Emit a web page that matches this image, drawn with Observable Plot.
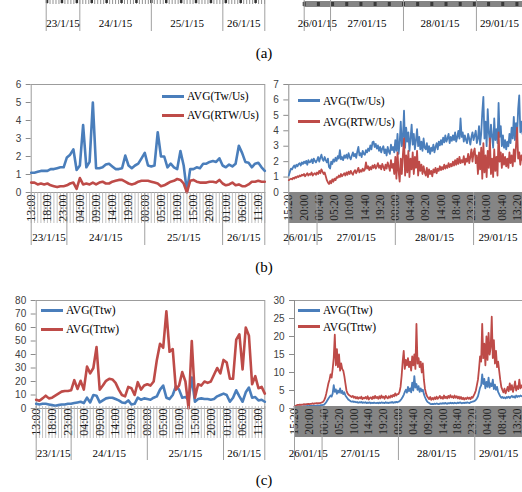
<!DOCTYPE html>
<html><head><meta charset="utf-8">
<script src="https://cdn.jsdelivr.net/npm/d3@7"></script>
<script src="https://cdn.jsdelivr.net/npm/@observablehq/plot@0.6"></script>
<style>
html,body{margin:0;padding:0;background:#fff;}
#fig{position:relative;width:522px;height:492px;overflow:hidden;background:#fff;}
#fig svg{position:absolute;overflow:visible;}
.cap{position:absolute;left:244px;width:40px;text-align:center;font-family:"Liberation Serif",serif;font-size:15px;line-height:17px;color:#000;}
.leg{position:absolute;height:14px;display:flex;align-items:center;white-space:nowrap;font-family:"Liberation Serif",serif;font-size:11.5px;color:#000;}
.leg .sw{display:inline-block;width:22px;height:3px;margin-right:3px;}
</style></head><body><div id="fig"></div>
<script>
// ---------- data ----------
const seriesB = ["AVG(Tw/Us)", "AVG(RTW/Us)"];
const seriesC = ["AVG(Ttw)", "AVG(Trtw)"];
const colors = ["#4a7ebb", "#be4b48"];

const leftTimeLabels = ["13:00","18:00","23:00","04:00","09:00","14:00","19:00","00:00","05:00","10:00","15:00","20:00","01:00","06:00","11:00"];
const leftDateLabels = ["23/1/15","24/1/15","25/1/15","26/1/15"];
const rightTimeLabels = ["15:20","20:00","00:40","05:20","10:00","14:40","19:20","00:00","04:40","09:20","14:00","18:40","23:20","04:00","08:40","13:20"];
const rightDateLabels = ["26/01/15","27/01/15","28/01/15","29/01/15"];

// hourly, 23/1/15 13:00 -> 26/1/15 13:00
const twUsHourly = [1.10,1.10,1.15,1.20,1.20,1.20,1.30,1.30,1.35,1.40,
1.40,1.95,2.10,2.40,1.25,1.50,3.75,1.40,1.70,5.00,
1.35,1.35,1.40,1.55,1.60,1.45,1.30,1.30,1.35,2.05,
1.50,1.35,1.50,1.60,1.90,2.20,1.50,1.45,1.50,3.35,
2.00,2.00,1.40,1.60,1.40,1.30,2.30,1.50,0.05,1.30,
1.30,1.40,1.35,1.60,1.60,1.70,1.75,1.70,1.90,1.50,
1.40,1.55,1.45,1.60,2.60,2.20,1.70,1.65,1.40,1.60,
1.65,1.40,1.20];
const rtwUsHourly = [0.55,0.55,0.45,0.50,0.45,0.50,0.40,0.35,0.30,0.35,
0.35,0.40,0.50,0.55,0.20,0.80,0.45,0.50,0.45,0.55,
0.45,0.55,0.60,0.50,0.50,0.60,0.65,0.70,0.70,0.60,
0.50,0.45,0.50,0.60,0.65,0.65,0.65,0.60,0.55,0.50,
0.35,0.40,0.50,0.60,0.65,0.75,0.70,0.50,0.00,0.65,
0.70,0.60,0.55,0.55,0.55,0.60,0.60,0.55,0.70,0.50,
0.40,0.45,0.55,0.40,0.45,0.35,0.35,0.45,0.60,0.60,
0.65,0.60,0.60];
const ttwHourly = [3.5,3,3.5,3.5,3,2.5,2,2.5,3,3,
3.5,3.5,4,4.5,5,4,8,4.5,10,9.5,
4.5,6,7.5,8,8,7,6,4.5,4,6,
3,3.5,8,6.5,7.5,7,6.5,8,9,14,
17,8,7,10,16.5,14,8,8.5,6.5,23,
5,7,7.5,7,7,6.5,7,9,10,11,
10,5,8,13.5,9,5,12,15.5,8,8.5,
6,6.5,5];
const trtwHourly = [6.5,5.7,7.5,9.5,7.5,8,9.5,11,12.5,13,
13,13.5,21,14.5,20.5,14,31,26,30,45.5,
14,17,20.5,22,21.5,19,14,10,9,16,
15,10,19.5,14,17,18,17,20,36,48,
45,72,42,44,14,17,27,20,0,50,
8,18,17,20,19,20,25,30,26,36,
34,22,22,51,55,29,60,54,18,24,
15,16,11];

// every 20 minutes, 26/01/15 15:20 -> 29/01/15 15:00
const twUsFine = [1.10,1.35,1.55,1.50,1.65,1.75,1.60,1.80,1.70,1.85,
1.90,1.75,1.95,1.85,2.00,1.90,2.05,1.80,2.10,1.95,
2.00,2.15,1.90,2.20,2.05,1.95,
2.10,2.30,2.00,2.25,2.45,2.15,2.05,2.30,2.10,1.95,
2.20,1.65,1.55,2.00,1.85,2.15,2.00,2.25,2.05,2.35,
2.20,2.75,2.15,2.30,2.10,2.40,
2.25,2.45,2.20,2.55,2.30,2.15,2.40,2.60,2.35,2.50,
2.25,2.65,2.95,2.40,2.55,2.30,2.70,2.50,2.45,2.75,
2.60,2.85,2.70,3.05,2.80,3.25,
3.30,2.95,3.15,2.85,3.05,2.70,2.95,2.60,2.85,3.00,
2.55,2.80,2.40,2.95,2.65,2.50,3.10,2.75,2.95,2.60,
3.40,2.70,3.80,2.50,3.20,4.60,3.00,3.60,5.30,2.90,
4.20,3.30,3.90,2.70,3.50,4.40,3.10,3.80,2.80,3.40,
4.10,3.00,3.60,2.80,3.30,2.70,3.50,2.90,
2.80,3.20,2.60,3.00,2.50,2.90,2.70,3.10,2.60,2.95,
3.20,2.80,3.30,3.05,3.40,3.10,3.55,3.25,3.70,3.30,
3.50,3.80,3.20,3.60,3.35,
3.70,3.40,3.90,3.30,3.60,4.00,3.50,4.80,3.60,3.90,
3.30,3.70,3.40,3.20,3.80,3.50,3.10,3.60,3.90,3.40,
3.70,4.00,3.20,3.50,4.30,
3.10,3.80,5.20,6.20,3.50,4.60,3.00,5.40,3.90,3.20,
4.40,3.60,2.90,4.80,3.40,4.10,3.20,5.80,3.60,4.30,
3.00,3.70,2.90,3.40,2.80,
3.30,3.00,3.80,3.20,4.20,3.50,4.90,3.40,4.50,3.60,
5.40,6.30,3.90,4.60,3.80];
const rtwUsFine = [0.80,0.85,0.90,0.85,0.95,0.90,1.00,0.95,1.05,1.00,
1.10,1.05,1.15,1.10,1.20,1.05,1.15,1.25,1.10,1.20,
1.15,1.30,1.10,1.20,1.25,1.15,
1.30,1.20,1.40,1.25,1.50,1.35,1.20,1.30,1.05,0.80,
0.65,0.55,0.75,0.60,0.85,0.70,0.90,0.80,1.00,0.95,
1.10,1.00,1.20,1.05,1.15,1.25,
1.10,1.30,1.15,1.35,1.20,1.40,1.25,1.15,1.35,1.45,
1.25,1.40,1.60,1.30,1.45,1.35,1.55,1.40,1.50,1.95,
1.55,1.70,1.45,1.65,1.50,1.75,
1.60,1.80,1.55,1.70,1.90,1.60,1.75,1.50,1.85,1.65,
1.45,1.80,1.55,1.95,1.70,1.40,2.10,1.60,1.85,1.20,
2.30,0.90,2.60,1.40,0.70,2.20,1.20,2.50,3.50,1.10,
2.40,1.30,2.70,1.00,2.20,1.50,2.60,1.20,2.30,1.60,
2.70,1.10,2.00,1.40,1.80,1.20,1.70,1.30,
1.10,1.60,1.00,1.50,1.20,1.40,1.05,1.50,1.30,1.60,
1.25,1.55,1.40,1.70,1.45,1.65,1.50,1.80,1.55,1.75,
1.60,1.90,1.65,1.85,1.70,
2.00,1.75,2.10,1.80,2.20,1.85,2.30,1.90,2.10,1.95,
2.35,1.80,2.20,2.00,2.50,1.90,2.30,2.80,2.00,2.60,
2.85,1.90,2.40,1.20,2.60,
1.50,2.90,0.90,3.20,1.30,2.40,1.00,2.70,1.60,3.50,
1.20,2.20,1.00,2.80,1.40,2.30,1.10,3.90,2.00,2.60,
1.60,2.50,1.80,2.30,1.70,
2.20,1.60,2.60,1.90,2.40,1.70,2.80,2.00,3.00,4.20,
2.20,2.60,1.80,2.40,2.10];
const ttwFine = [0.40,0.45,0.50,0.50,0.55,0.55,0.60,0.55,0.60,0.65,
0.60,0.65,0.70,0.65,0.70,0.70,0.75,0.70,0.75,0.80,
0.75,0.80,0.85,0.80,0.85,0.90,
0.90,1.00,1.10,1.40,1.80,2.30,2.80,3.20,3.60,3.30,
4.20,6.50,4.60,5.30,4.10,5.00,4.40,5.60,4.30,4.90,
4.00,4.50,3.60,3.20,2.80,2.40,
2.20,2.00,1.90,2.00,1.80,1.90,1.70,1.80,1.60,1.75,
1.65,1.80,1.55,1.70,1.60,1.75,1.50,1.65,1.55,1.70,
1.45,1.60,1.50,1.65,1.55,1.50,
1.60,1.45,1.65,1.50,1.70,1.55,1.60,1.50,1.75,1.55,
1.65,1.50,1.70,1.60,1.80,1.55,1.75,1.65,1.85,1.70,
1.90,2.00,2.30,2.70,3.20,3.80,4.60,5.20,4.40,6.00,
4.80,5.60,4.50,7.20,5.00,9.00,5.80,6.80,5.20,6.20,
4.60,5.60,4.80,5.20,4.00,3.20,2.50,2.00,
1.70,1.50,1.30,1.20,1.30,1.20,1.35,1.25,1.40,1.30,
1.20,1.35,1.45,1.30,1.50,1.35,1.55,1.40,1.30,1.50,
1.40,1.60,1.45,1.55,1.40,
1.60,1.50,1.45,1.65,1.50,1.70,1.55,1.45,1.60,1.50,
1.65,1.55,1.70,1.60,1.50,1.75,1.80,1.90,2.00,
2.10,2.40,2.80,3.40,4.60,5.80,
6.40,9.50,6.80,8.20,5.60,7.40,6.00,8.60,5.80,7.00,
6.20,8.00,5.40,6.60,5.20,6.00,4.60,4.00,3.40,3.00,
3.20,2.90,3.10,2.80,3.20,
3.00,3.30,2.90,3.20,3.50,3.10,3.40,3.00,3.60,3.20,
3.50,3.30,3.60,3.40,3.50];
const trtwFine = [0.50,0.70,0.90,1.00,1.00,1.10,1.00,1.10,1.10,1.20,
1.10,1.20,1.20,1.30,1.20,1.30,1.30,1.40,1.30,1.40,
1.40,1.50,1.40,1.50,1.50,1.60,
1.70,1.90,2.30,3.00,4.20,5.60,7.00,8.00,9.50,8.60,
11.00,14.00,20.50,12.00,16.50,11.50,15.00,10.50,12.50,11.00,
10.50,9.00,7.00,5.00,4.20,3.80,
3.60,3.40,3.20,3.50,3.00,3.30,2.80,3.20,2.70,3.10,
2.80,3.30,2.60,3.00,2.80,3.20,2.70,3.40,2.50,2.90,
3.10,2.60,3.30,2.80,3.50,2.90,
3.20,2.70,3.40,2.80,3.60,3.00,3.30,2.70,3.50,3.10,
2.80,3.40,3.00,3.60,3.20,3.80,3.40,4.20,3.60,4.00,
4.00,4.60,6.00,9.00,13.00,16.00,11.00,13.50,12.00,14.00,
11.50,13.00,10.50,14.50,12.00,15.00,11.00,23.50,12.50,14.00,
11.50,13.00,10.00,12.50,8.00,5.50,4.20,3.40,
3.00,2.60,3.20,2.40,2.90,2.50,3.10,2.60,3.30,2.70,
3.00,3.50,2.80,3.20,2.70,3.60,2.90,3.30,2.80,3.50,
3.00,3.70,3.10,3.40,2.90,
3.60,3.00,3.40,2.80,3.30,2.70,3.20,2.60,3.00,2.50,
2.90,2.60,3.10,2.70,3.00,2.60,3.20,3.00,3.60,
4.20,5.00,6.50,8.00,11.00,14.50,
13.00,23.50,14.00,18.00,12.00,20.00,13.50,21.00,15.00,17.00,
25.50,14.00,19.00,12.50,16.00,11.50,13.00,10.50,8.00,6.00,
5.20,4.50,5.50,4.20,5.00,
6.00,4.80,7.00,5.20,6.50,4.60,5.80,7.50,5.00,6.20,
5.40,8.00,5.60,6.40,5.80];

// ---------- time helpers ----------
const T = (y, m, d, h, mi = 0) => new Date(Date.UTC(y, m - 1, d, h, mi));
const H = 3600e3;
const leftStart = T(2015,1,23,13);
const leftEnd = new Date(+leftStart + 72 * H);
const rightStart = T(2015,1,26,15,20);
const rightEnd = new Date(+rightStart + 215 * 20 * 60e3);
const hourly = arr => arr.map((v, i) => ({t: new Date(+leftStart + i * H), v}));
const fine = arr => arr.map((v, i) => ({t: new Date(+rightStart + i * 20 * 60e3), v}));
const leftTicks = leftTimeLabels.map((s, k) => new Date(+leftStart + k * 5 * H));
const rightTicks = rightTimeLabels.map((s, k) => new Date(+rightStart + k * 280 * 60e3));
const leftDays = [T(2015,1,24,0), T(2015,1,25,0), T(2015,1,26,0)];
const rightDays = [T(2015,1,27,0), T(2015,1,28,0), T(2015,1,29,0)];
const mids = b => b.slice(1).map((e, i) => new Date((+b[i] + +e) / 2));

const fig = document.getElementById("fig");
function place(svg, left, top) { svg.style.left = left + "px"; svg.style.top = top + "px"; fig.appendChild(svg); }

const SERIF = "Liberation Serif, Times New Roman, serif";
const SANS = "Liberation Sans, Arial, sans-serif";

function chartPlot({series, domain, width, mL, mR, yMax, yStep, sw, full}) {
  const marks = [
    Plot.axisY({ticks: d3.range(0, yMax + yStep / 2, yStep), tickFormat: d => String(d), label: null,
      tickSize: 5, tickPadding: 5, stroke: "#8c8c8c", fill: "#404040", fontSize: 10, fontFamily: SANS})
  ];
  if (full) marks.push(Plot.frame({stroke: "#9c9c9c"}));
  else {
    marks.push(Plot.ruleY([yMax], {stroke: "#9c9c9c"}));
    marks.push(Plot.ruleY([0], {stroke: "#8c8c8c"}));
    marks.push(Plot.ruleX([domain[0]], {stroke: "#8c8c8c"}));
  }
  series.forEach((s, k) => marks.push(Plot.lineY(s, {x: "t", y: "v", stroke: colors[k], strokeWidth: sw, strokeLinejoin: "round"})));
  return Plot.plot({width, height: 114, marginTop: 6, marginBottom: 0, marginLeft: mL, marginRight: mR,
    x: {type: "utc", domain, axis: null}, y: {domain: [0, yMax], label: null}, marks,
    style: {background: "transparent", overflow: "visible"}});
}

function stripPlot({domain, width, mL, mR, height, hours, ticks, tickLabels, seps, sepY1, sepY2, dateBounds, dateLabels, dateY, band, bandY1, bandY2, blobs, tickFont = 12}) {
  const marks = [];
  if (band) marks.push(Plot.rect([{a: domain[0], b: domain[1]}], {x1: "a", x2: "b", y1: bandY1, y2: bandY2, fill: "#858585"}));
  if (hours) marks.push(Plot.ruleX(hours.list, {y1: hours.y1, y2: hours.y2, stroke: hours.stroke, strokeWidth: hours.w}));
  if (blobs) marks.push(Plot.ruleX(blobs.list, {y1: blobs.y1, y2: blobs.y2, stroke: blobs.stroke, strokeWidth: blobs.w}));
  if (ticks) marks.push(Plot.text(ticks, {x: d => d, y: 2, text: (d, i) => tickLabels[i], rotate: -90, textAnchor: "end",
    lineAnchor: "middle", fontSize: tickFont, fontFamily: SERIF, fill: "#1e1e1e"}));
  marks.push(Plot.ruleX(seps, {y1: sepY1, y2: sepY2, stroke: "#a0a0a0"}));
  marks.push(Plot.text(mids(dateBounds), {x: d => d, y: dateY, text: (d, i) => dateLabels[i], fontSize: 11, fontFamily: SERIF, fill: "#000"}));
  return Plot.plot({width, height, marginTop: 0, marginBottom: 0, marginLeft: mL, marginRight: mR,
    x: {type: "utc", domain, axis: null}, y: {domain: [0, height], range: [0, height], axis: null}, marks,
    style: {background: "transparent", overflow: "visible"}});
}

function legend(names, x, ys) {
  names.forEach((n, k) => {
    const d = document.createElement("div");
    d.className = "leg"; d.style.left = x + "px"; d.style.top = (ys[k] - 7) + "px";
    d.innerHTML = `<span class="sw" style="background:${colors[k]}"></span>${n}`;
    fig.appendChild(d);
  });
}
function caption(t, y) {
  const d = document.createElement("div"); d.className = "cap"; d.style.top = (y - 8.5) + "px"; d.textContent = t; fig.appendChild(d);
}

// ---------- (a) strip ----------
const aLeftDomain = [T(2015,1,23,12,43), T(2015,1,26,14,5)];
place(stripPlot({domain: aLeftDomain, width: 270, mL: 45.7, mR: 5.7, height: 35,
  hours: {list: d3.utcHour.range(T(2015,1,23,13), aLeftDomain[1]), y1: 0, y2: 4, stroke: "#777", w: 0.8},
  blobs: {list: d3.utcHour.range(T(2015,1,23,13), aLeftDomain[1]).filter((d, i) => i % 5 === 0), y1: 0, y2: 3, stroke: "#333", w: 2.5},
  seps: [aLeftDomain[0], ...leftDays, aLeftDomain[1]], sepY1: 0, sepY2: 31,
  dateBounds: [aLeftDomain[0], ...leftDays, aLeftDomain[1]], dateLabels: leftDateLabels, dateY: 23}), 0, 0);
const aRightDomain = [rightStart, T(2015,1,29,15,10)];
place(stripPlot({domain: aRightDomain, width: 252, mL: 33.7, mR: 0, height: 35,
  band: true, bandY1: 1, bandY2: 7,
  blobs: {list: rightTicks, y1: 2, y2: 6, stroke: "#3a3a3a", w: 3},
  seps: [aRightDomain[0], ...rightDays], sepY1: 0, sepY2: 31,
  dateBounds: [aRightDomain[0], ...rightDays, aRightDomain[1]], dateLabels: rightDateLabels, dateY: 23}), 270, 0);
caption("(a)", 53);

// ---------- (b) ----------
place(chartPlot({series: [hourly(twUsHourly), hourly(rtwUsHourly)], domain: [leftStart, leftEnd], width: 270, mL: 30.7, mR: 5.7, yMax: 6, yStep: 1, sw: 2.6, full: true}), 0, 78);
place(stripPlot({domain: [leftStart, leftEnd], width: 270, mL: 30.7, mR: 5.7, height: 58,
  hours: {list: d3.utcHour.range(leftStart, new Date(+leftEnd + 1)), y1: 0, y2: 31, stroke: "#b3b3b3", w: 0.8},
  ticks: leftTicks, tickLabels: leftTimeLabels,
  seps: [leftStart, ...leftDays, leftEnd], sepY1: 0, sepY2: 53,
  dateBounds: [leftStart, ...leftDays, leftEnd], dateLabels: leftDateLabels, dateY: 45}), 0, 192);
place(chartPlot({series: [fine(twUsFine), fine(rtwUsFine)], domain: [rightStart, rightEnd], width: 252, mL: 18.3, mR: 0, yMax: 7, yStep: 1, sw: 1.8, full: false}), 270, 78);
place(stripPlot({domain: [rightStart, rightEnd], width: 252, mL: 18.3, mR: 0, height: 58,
  band: true, bandY1: 0, bandY2: 31, tickFont: 11.5,
  ticks: rightTicks, tickLabels: rightTimeLabels,
  seps: [rightStart, ...rightDays], sepY1: 0, sepY2: 53,
  dateBounds: [rightStart, ...rightDays, rightEnd], dateLabels: rightDateLabels, dateY: 45}), 270, 192);
legend(seriesB, 162, [96, 115]);
legend(seriesB, 298, [100.7, 121.7]);
caption("(b)", 267);

// ---------- (c) ----------
place(chartPlot({series: [hourly(ttwHourly), hourly(trtwHourly)], domain: [leftStart, leftEnd], width: 270, mL: 35.7, mR: 5.7, yMax: 80, yStep: 10, sw: 2.6, full: true}), 0, 294);
place(stripPlot({domain: [leftStart, leftEnd], width: 270, mL: 35.7, mR: 5.7, height: 58,
  hours: {list: d3.utcHour.range(leftStart, new Date(+leftEnd + 1)), y1: 0, y2: 32, stroke: "#b3b3b3", w: 0.8},
  ticks: leftTicks, tickLabels: leftTimeLabels,
  seps: [leftStart, ...leftDays, leftEnd], sepY1: 0, sepY2: 54,
  dateBounds: [leftStart, ...leftDays, leftEnd], dateLabels: leftDateLabels, dateY: 47}), 0, 406);
place(chartPlot({series: [fine(ttwFine), fine(trtwFine)], domain: [rightStart, rightEnd], width: 252, mL: 24, mR: 0, yMax: 30, yStep: 5, sw: 1.8, full: false}), 270, 294);
place(stripPlot({domain: [rightStart, rightEnd], width: 252, mL: 24, mR: 0, height: 58,
  band: true, bandY1: 0, bandY2: 31, tickFont: 11.5,
  ticks: rightTicks, tickLabels: rightTimeLabels,
  seps: [rightStart, ...rightDays], sepY1: 0, sepY2: 54,
  dateBounds: [rightStart, ...rightDays, rightEnd], dateLabels: rightDateLabels, dateY: 47}), 270, 406);
legend(seriesC, 41, [310, 329]);
legend(seriesC, 298, [310, 326.7]);
caption("(c)", 480);
</script></body></html>
